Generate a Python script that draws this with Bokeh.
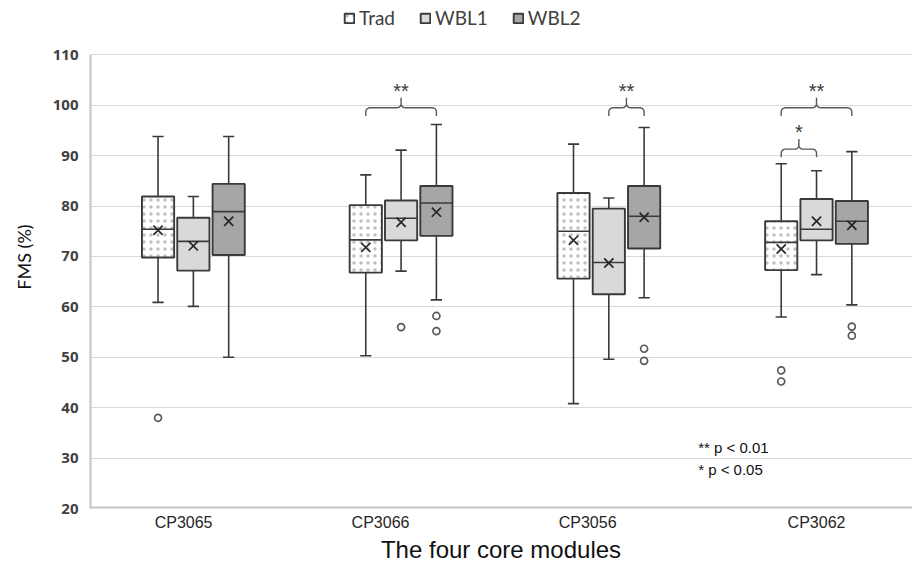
import math
from bokeh.plotting import figure
from bokeh.models import ColumnDataSource, FixedTicker, Legend, LegendItem, Range1d
from bokeh.core.properties import value
from bokeh.embed import file_html
from bokeh.resources import INLINE

# ---------------- data ----------------
categories = ["CP3065", "CP3066", "CP3056", "CP3062"]
series = ["Trad", "WBL1", "WBL2"]

trad_whisk_hi = [93.8, 86.2, 92.3, 88.4]
trad_q3 = [81.9, 80.2, 82.6, 77.0]
trad_median = [75.4, 73.3, 75.0, 72.8]
trad_mean = [75.2, 71.8, 73.2, 71.5]
trad_q1 = [69.8, 66.8, 65.6, 67.3]
trad_whisk_lo = [60.9, 50.3, 40.8, 58.0]
trad_out_cat = [0, 3, 3]
trad_out_val = [38.0, 47.4, 45.2]

wbl1_whisk_hi = [81.9, 91.1, 81.6, 87.0]
wbl1_q3 = [77.7, 81.1, 79.5, 81.4]
wbl1_median = [73.0, 77.6, 68.8, 75.4]
wbl1_mean = [72.1, 76.8, 68.7, 77.0]
wbl1_q1 = [67.2, 73.2, 62.5, 73.2]
wbl1_whisk_lo = [60.1, 67.1, 49.6, 66.4]
wbl1_out_cat = [1]
wbl1_out_val = [56.0]

wbl2_whisk_hi = [93.8, 96.2, 95.6, 90.8]
wbl2_q3 = [84.4, 84.0, 84.0, 81.0]
wbl2_median = [78.9, 80.6, 78.0, 77.0]
wbl2_mean = [77.0, 78.8, 77.8, 76.2]
wbl2_q1 = [70.3, 74.1, 71.6, 72.5]
wbl2_whisk_lo = [50.0, 61.4, 61.8, 60.4]
wbl2_out_cat = [1, 1, 2, 2, 3, 3]
wbl2_out_val = [58.2, 55.2, 51.7, 49.3, 56.1, 54.3]

# significance brackets: category, from-series, to-series, label
sig_cat = [1, 2, 3, 3]
sig_from = [0, 1, 0, 0]
sig_to = [2, 2, 2, 1]
sig_label = ["**", "**", "**", "*"]
sig_level = [99.5, 99.5, 99.5, 91.3]

notes = ["** p < 0.01", "* p < 0.05"]
note_y = [32.2, 27.7]

y_ticks = [20, 30, 40, 50, 60, 70, 80, 90, 100, 110]

# ---------------- styling ----------------
stats = [
    (trad_whisk_hi, trad_q3, trad_median, trad_mean, trad_q1, trad_whisk_lo, trad_out_cat, trad_out_val),
    (wbl1_whisk_hi, wbl1_q3, wbl1_median, wbl1_mean, wbl1_q1, wbl1_whisk_lo, wbl1_out_cat, wbl1_out_val),
    (wbl2_whisk_hi, wbl2_q3, wbl2_median, wbl2_mean, wbl2_q1, wbl2_whisk_lo, wbl2_out_cat, wbl2_out_val),
]
fills = ["white", "#d9d9d9", "#a6a6a6"]
offsets = [-0.17, 0.0, 0.17]
box_w = 0.155
cap_w = 0.054
dark = "#3a3a3a"
label_shift = [-0.047, -0.099, -0.102, 0.0]

# frame runs up into the legend band so the legend can sit above the 110 line
x_lo, x_hi = 0, 3.962
y_lo, y_top = y_ticks[0], 119.8

p = figure(width=912, height=566, x_range=Range1d(x_lo, x_hi), y_range=Range1d(y_lo, y_top),
           output_backend="svg", toolbar_location=None,
           min_border_left=89, min_border_right=0, min_border_top=5, min_border_bottom=58)
p.background_fill_color = "white"
p.border_fill_color = "white"
p.outline_line_color = None

p.xgrid.visible = False
p.ygrid.ticker = FixedTicker(ticks=y_ticks)
p.ygrid.grid_line_color = "#d9d9d9"
p.ygrid.grid_line_width = 1

p.yaxis.ticker = FixedTicker(ticks=y_ticks)
p.yaxis.axis_line_color = None
p.yaxis.major_tick_line_color = None
p.yaxis.major_tick_out = 0
p.yaxis.major_tick_in = 0
p.yaxis.minor_tick_line_color = None
p.yaxis.minor_tick_out = 0
p.yaxis.major_label_text_font = "Open Sans"
p.yaxis.major_label_text_font_style = "bold"
p.yaxis.major_label_text_font_size = "15px"
p.yaxis.major_label_text_color = "#404040"
p.yaxis.major_label_standoff = 11
p.yaxis.axis_label = "FMS (%)"
p.yaxis.axis_label_text_font = "Lato"
p.yaxis.axis_label_text_font_style = "normal"
p.yaxis.axis_label_text_font_size = "18px"
p.yaxis.axis_label_text_color = "#111111"
p.yaxis.axis_label_standoff = 15

tick_pos = [round(i + 0.5 + label_shift[i], 4) for i in range(len(categories))]
p.xaxis.ticker = FixedTicker(ticks=tick_pos)
p.xaxis.major_label_overrides = {t: c for t, c in zip(tick_pos, categories)}
p.xaxis.axis_line_color = None
p.xaxis.major_tick_line_color = None
p.xaxis.major_tick_out = 0
p.xaxis.major_tick_in = 0
p.xaxis.minor_tick_line_color = None
p.xaxis.minor_tick_out = 0
p.xaxis.major_label_text_font = "Liberation Sans"
p.xaxis.major_label_text_font_size = "16px"
p.xaxis.major_label_text_color = "#262626"
p.xaxis.major_label_standoff = 5
p.xaxis.axis_label = "The four core modules"
p.xaxis.axis_label_text_font = "Liberation Sans"
p.xaxis.axis_label_text_font_style = "normal"
p.xaxis.axis_label_text_font_size = "24px"
p.xaxis.axis_label_text_color = "#111111"
p.xaxis.axis_label_standoff = 2

# plot-area border (left and bottom), from the axis ranges
p.segment(x0=[x_lo, x_lo], y0=[y_lo, y_lo], x1=[x_lo, x_hi], y1=[y_ticks[-1], y_lo],
          line_color="#c4c4c4", line_width=4)

legend_items = []
centers = {}
for s, (hi, q3, med, mean, q1, lo, oc, ov) in enumerate(stats):
    xs = [i + 0.5 + offsets[s] for i in range(len(categories))]
    for i, x in enumerate(xs):
        centers[(i, s)] = x
    src = ColumnDataSource(dict(x=xs, hi=hi, q3=q3, med=med, mean=mean, q1=q1, lo=lo,
                                cl=[x - cap_w / 2 for x in xs], cr=[x + cap_w / 2 for x in xs],
                                bl=[x - box_w / 2 for x in xs], br=[x + box_w / 2 for x in xs]))
    p.segment(x0="x", y0="q3", x1="x", y1="hi", source=src, line_color=dark, line_width=1.6)
    p.segment(x0="x", y0="q1", x1="x", y1="lo", source=src, line_color=dark, line_width=1.6)
    p.segment(x0="cl", y0="hi", x1="cr", y1="hi", source=src, line_color=dark, line_width=1.6)
    p.segment(x0="cl", y0="lo", x1="cr", y1="lo", source=src, line_color=dark, line_width=1.6)
    kw = {}
    if s == 0:
        kw = dict(hatch_pattern="dot", hatch_scale=7, hatch_weight=0.3, hatch_color="#8a8a8a",
                  hatch_alpha=0.55)
    r = p.vbar(x="x", width=box_w, top="q3", bottom="q1", source=src,
               fill_color=fills[s], line_color=dark, line_width=1.9, **kw)
    legend_items.append(LegendItem(label=series[s], renderers=[r]))
    p.segment(x0="bl", y0="med", x1="br", y1="med", source=src, line_color=dark, line_width=1.6)
    p.scatter(x="x", y="mean", source=src, marker="x", size=13, line_color="#262626", line_width=1.7)
    osrc = ColumnDataSource(dict(x=[c + 0.5 + offsets[s] for c in oc], y=ov))
    p.scatter(x="x", y="y", source=osrc, marker="circle", size=7, fill_color="white",
              line_color="#595959", line_width=1.7)

# curly brackets
rx, ry, drop, rise = 0.02, 0.8, 1.6, 2.0


def arc(cx, cy, a0, a1, n=6):
    pts = []
    for k in range(n + 1):
        t = math.radians(a0 + (a1 - a0) * k / n)
        pts.append((cx + rx * math.cos(t), cy + ry * math.sin(t)))
    return pts


bxs, bys, sx, sy = [], [], [], []
for c, f, t, L in zip(sig_cat, sig_from, sig_to, sig_level):
    x0, x1 = centers[(c, f)], centers[(c, t)]
    xm = (x0 + x1) / 2
    pts = [(x0, L - drop)]
    pts += arc(x0 + rx, L - ry, 180, 90)
    pts += arc(xm - rx, L + ry, -90, 0)
    pts += [(xm, L + rise)]
    pts += arc(xm + rx, L + ry, 180, 270)
    pts += arc(x1 - rx, L - ry, 90, 0)
    pts += [(x1, L - drop)]
    bxs.append([q[0] for q in pts])
    bys.append([q[1] for q in pts])
    sx.append(xm)
    sy.append(L + rise + 1.4)
p.multi_line(xs=bxs, ys=bys, line_color="#595959", line_width=1.4)
p.text(x=sx, y=sy, text=sig_label, text_align="center", text_baseline="alphabetic",
       text_font=value("Liberation Sans"), text_font_size="20px", text_color=dark)

p.text(x=[2.93] * len(notes), y=note_y, text=notes, text_align="left", text_baseline="middle",
       text_font=value("Liberation Sans"), text_font_size="15px", text_color="#111111")

legend = Legend(items=legend_items, location=(254, 479), orientation="horizontal",
                border_line_color=None, background_fill_alpha=0, padding=0, margin=0,
                spacing=24, label_standoff=4, glyph_width=12, glyph_height=12,
                label_text_font="Lato", label_text_font_size="19px", label_text_color="#404040",
                label_height=20)
p.add_layout(legend)

open("out.html", "w").write(file_html(p, INLINE))
